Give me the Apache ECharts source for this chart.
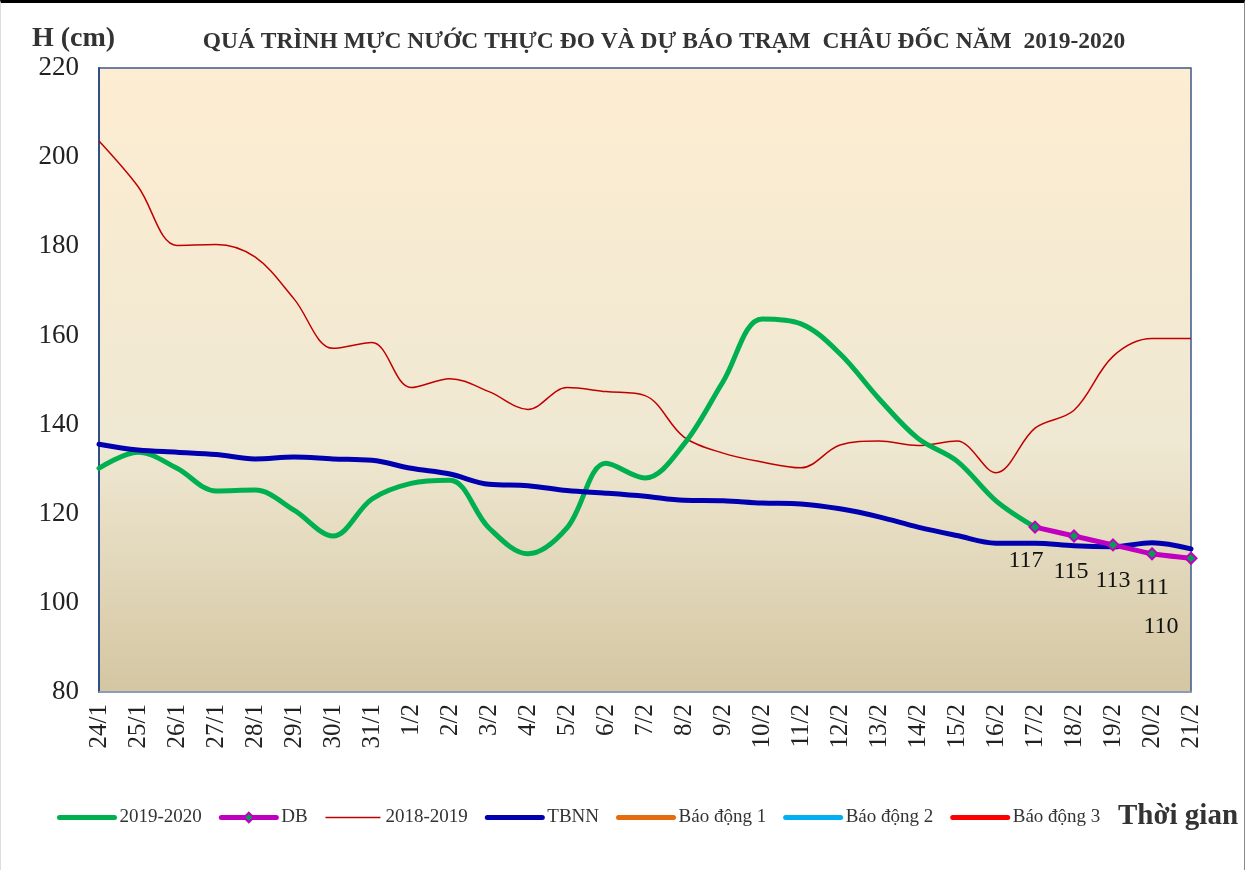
<!DOCTYPE html>
<html>
<head>
<meta charset="utf-8">
<script src="https://cdn.jsdelivr.net/npm/echarts@6/dist/echarts.min.js"></script>
<style>
 html, body { margin: 0; padding: 0; background: #fff; }
 #chart { width: 1245px; height: 870px; box-sizing: border-box; border-top: 3px solid #000; border-right: 1px solid #888; border-left: 1px solid #ddd; }
</style>
</head>
<body>
<div id="chart"></div>
<script>
 /*global echarts*/

 var days = ["24/1", "25/1", "26/1", "27/1", "28/1", "29/1", "30/1", "31/1", "1/2", "2/2", "3/2", "4/2", "5/2", "6/2", "7/2",
  "8/2", "9/2", "10/2", "11/2", "12/2", "13/2", "14/2", "15/2", "16/2", "17/2", "18/2", "19/2", "20/2", "21/2"];

 // thuc do 2019-2020
 var y2020 = [130.2, 133.8, 130.2, 125.1, 125.3, 120.8, 115, 123.3, 126.8, 127.5, 116.8, 111, 116.8, 131.3, 128,
  135.6, 149.6, 163.7, 162.6, 155.9, 145.8, 136.9, 131.8, 122.9, 117];

 // du bao
 var dbVals = [117, 115, 113, 111, 110];
 var dbStart = 24;

 var y2019 = [203.6, 193.4, 180.2, 180.4, 177.6, 168.2, 157.1, 158.4, 148.3, 150.3, 147.4, 143.4, 148.3, 147.4, 146.5,
  137.2, 133.6, 131.6, 130.3, 135.4, 136.3, 135.3, 136.3, 129.2, 139.2, 143.2, 155.3, 159.3, 159.3];

 var tbnn = [135.6, 134.3, 133.8, 133.3, 132.3, 132.7, 132.3, 132, 130.2, 128.9, 126.6, 126.3, 125.2, 124.6, 123.9,
  123, 122.9, 122.4, 122.2, 121.1, 119.3, 117, 115.1, 113.4, 113.4, 112.8, 112.6, 113.5, 112.1];

 var legendNames = ["2019-2020", "DB", "2018-2019", "TBNN", "Báo động 1", "Báo động 2", "Báo động 3"];

 // nhan du bao: do lech [dx, dy]
 var dbLabelOffset = [[-9, 10], [-3, 12], [0, 12], [0, 10], [-30, 45]];

 var serif = "Liberation Serif";

 var dbData = days.map(function(d, i) {
  if (i < dbStart) return "-";
  var k = i - dbStart;
  return {
   value: dbVals[k],
   label: { show: true, position: "bottom", offset: dbLabelOffset[k] }
  };
 });

 var legendData = legendNames.map(function(n) {
  if (n === "DB") return { name: n };
  return { name: n, itemStyle: { opacity: 0 } };
 });

 var dom = document.getElementById("chart");
 var myChart = echarts.init(dom);
 var option = {
  animation: false,
  textStyle: { fontFamily: serif },
  title: [{
   text: "QUÁ TRÌNH MỰC NƯỚC THỰC ĐO VÀ DỰ BÁO TRẠM  CHÂU ĐỐC NĂM  2019-2020",
   left: 658,
   top: 22,
   textAlign: "center",
   textStyle: { fontFamily: serif, fontSize: 23.5, fontWeight: "bold", color: "#333" }
  }, {
   text: "H (cm)",
   left: 26,
   top: 17,
   textStyle: { fontFamily: serif, fontSize: 28, fontWeight: "bold", color: "#333" }
  }],
  legend: {
   left: 51,
   top: 800,
   itemWidth: 55,
   itemHeight: 12,
   itemGap: 17,
   lineStyle: { width: "inherit" },
   textStyle: { fontFamily: serif, fontSize: 19, color: "#333" },
   data: legendData
  },
  graphic: [{
   type: "text",
   left: 1117,
   top: 799,
   style: { text: "Thời gian", font: "bold 29px 'Liberation Serif'", fill: "#333" }
  }],
  grid: {
   left: 98,
   right: 53,
   top: 65,
   bottom: 178,
   show: true,
   borderColor: "#3b5a8a",
   borderWidth: 1.5,
   backgroundColor: {
    type: "linear", x: 0, y: 0, x2: 0, y2: 1,
    colorStops: [{ offset: 0, color: "#fdedd2" }, { offset: 0.6, color: "#efe8d2" }, { offset: 1, color: "#d4c6a2" }]
   }
  },
  xAxis: {
   type: "category",
   boundaryGap: false,
   data: days,
   axisLine: { lineStyle: { color: "#9aa8c0", width: 1.5 } },
   axisTick: { show: false },
   axisLabel: { rotate: 90, fontFamily: serif, fontSize: 25, color: "#222", margin: 12, interval: 0 }
  },
  yAxis: {
   type: "value",
   min: 80,
   max: 220,
   interval: 20,
   axisLine: { show: true, lineStyle: { color: "#2f4f86", width: 2 } },
   axisTick: { show: false },
   splitLine: { show: false },
   axisLabel: { fontFamily: serif, fontSize: 27, color: "#222", margin: 20 }
  },
  series: [{
   name: "2019-2020",
   type: "line",
   smooth: 0.35,
   symbol: "none",
   data: y2020,
   z: 3,
   itemStyle: { color: "#00b050" },
   lineStyle: { color: "#00b050", width: 5, cap: "round" }
  }, {
   name: "DB",
   type: "line",
   smooth: 0.2,
   symbol: "diamond",
   symbolSize: 11,
   data: dbData,
   z: 5,
   itemStyle: { color: "#00a050", borderColor: "#c000c0", borderWidth: 2 },
   lineStyle: { color: "#c000c0", width: 5, cap: "round" },
   label: { fontFamily: serif, fontSize: 24, color: "#111" }
  }, {
   name: "2018-2019",
   type: "line",
   smooth: 0.35,
   symbol: "none",
   data: y2019,
   z: 2,
   itemStyle: { color: "#c00000" },
   lineStyle: { color: "#c00000", width: 1.5 }
  }, {
   name: "TBNN",
   type: "line",
   smooth: 0.35,
   symbol: "none",
   data: tbnn,
   z: 4,
   itemStyle: { color: "#0000b0" },
   lineStyle: { color: "#0000b0", width: 5, cap: "round" }
  }, {
   name: "Báo động 1",
   type: "line",
   symbol: "none",
   data: [],
   itemStyle: { color: "#e46c0a" },
   lineStyle: { color: "#e46c0a", width: 5, cap: "round" }
  }, {
   name: "Báo động 2",
   type: "line",
   symbol: "none",
   data: [],
   itemStyle: { color: "#00b0f0" },
   lineStyle: { color: "#00b0f0", width: 5, cap: "round" }
  }, {
   name: "Báo động 3",
   type: "line",
   symbol: "none",
   data: [],
   itemStyle: { color: "#ff0000" },
   lineStyle: { color: "#ff0000", width: 5, cap: "round" }
  }]
 };
 if (option && typeof option === "object") {
  myChart.setOption(option, true);
 }
</script>
</body>
</html>
